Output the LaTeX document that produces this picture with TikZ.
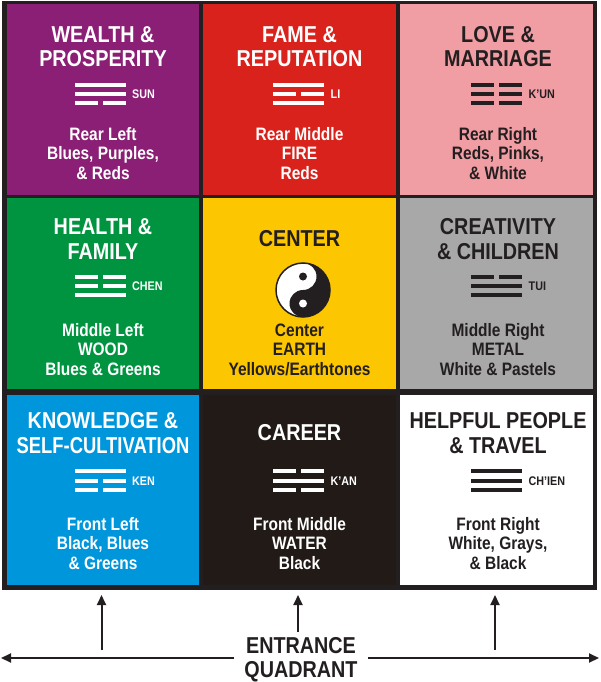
\documentclass[tikz,border=0pt]{standalone}
\usepackage{fontspec}
\usepackage{xcolor}
\usepackage{tikz}
\usetikzlibrary{positioning,arrows.meta}
\newfontfamily\condfont[FakeStretch=0.86]{Liberation Sans}

\definecolor{wealth}{RGB}{139,30,117}
\definecolor{fame}{RGB}{218,34,28}
\definecolor{love}{RGB}{240,157,164}
\definecolor{health}{RGB}{0,148,64}
\definecolor{earth}{RGB}{252,198,0}
\definecolor{metal}{RGB}{168,168,168}
\definecolor{knowl}{RGB}{0,150,220}
\definecolor{water}{RGB}{33,26,23}
\definecolor{ink}{RGB}{35,31,32}

\begin{document}
\begin{tikzpicture}[x=1pt, y=-1pt,
    cell/.style={minimum width=192.5pt, minimum height=190.5pt, inner sep=0pt},
    title/.style={font=\condfont\bfseries\fontsize{23}{24.5}\selectfont, align=center, anchor=base, inner sep=0pt},
    body/.style={font=\condfont\bfseries\fontsize{18}{19.5}\selectfont, align=center, anchor=base, inner sep=0pt},
    gua/.style={font=\condfont\bfseries\fontsize{12.5}{13}\selectfont, anchor=west, inner sep=0pt},
    entry/.style={draw=ink, line width=2pt, -{Triangle[length=10pt,width=9pt]}}]
    \useasboundingbox (0,0) rectangle (600,682);

    % Frame
    \fill[ink] (2,1) rectangle (597,590);

    % Cells
    \foreach \name/\x/\y/\col in {wealth/103/99.5/wealth, fame/299.5/99.5/fame, love/496.5/99.5/love,
        health/103/293.5/health, center/299.5/293.5/earth, creativity/496.5/293.5/metal,
        knowledge/103/490/knowl, career/299.5/490/water, helpful/496.5/490/white}
        \node[cell, fill=\col] (\name) at (\x,\y) {};

    % Titles (base = last line)
    \node[title, text=white] (wealthT) at (103,67) {WEALTH \&\\PROSPERITY};
    \node[title, text=white] (fameT) at (299.5,67) {FAME \&\\REPUTATION};
    \node[title, text=ink] (loveT) at (498,67) {LOVE \&\\MARRIAGE};
    \node[title, text=white] (healthT) at (103,259) {HEALTH \&\\FAMILY};
    \node[title, text=ink] (centerT) at (299.5,246) {CENTER};
    \node[title, text=ink] (creativityT) at (498,259) {CREATIVITY\\\& CHILDREN};
    \node[title, text=white] (knowledgeT) at (103,453) {KNOWLEDGE \&\\\scalebox{0.93}[1]{SELF-CULTIVATION}};
    \node[title, text=white] (careerT) at (299.5,440) {CAREER};
    \node[title, text=ink] (helpfulT) at (498,453) {HELPFUL PEOPLE\\\& TRAVEL};

    % Trigrams (top/middle/bottom, 1 = whole line)
    \foreach \x/\y/\a/\b/\c/\col in {100/94/1/1/0/white, 298.5/94/1/0/1/white, 496.5/94/0/0/0/ink,
        100/286/0/0/1/white, 496.5/286/0/1/1/ink,
        100/480.5/1/0/0/white, 298.5/480.5/0/1/0/white, 496.5/480.5/1/1/1/ink}
        \foreach \bit [count=\i] in {\a,\b,\c} {
            \pgfmathsetmacro{\ly}{\y+(\i-2)*9.3}
            \ifnum\bit=1
                \fill[\col] (\x-25.5,\ly-2) rectangle (\x+25.5,\ly+2);
            \else
                \fill[\col] (\x-25.5,\ly-2) rectangle (\x-2.5,\ly+2);
                \fill[\col] (\x+2.5,\ly-2) rectangle (\x+25.5,\ly+2);
            \fi
        }

    \node[gua, text=white] (sun) at (132,94.5) {SUN};
    \node[gua, text=white] (li) at (330.5,94.5) {LI};
    \node[gua, text=ink] (kun) at (528.5,94.5) {K’UN};
    \node[gua, text=white] (chen) at (132,286.5) {CHEN};
    \node[gua, text=ink] (tui) at (528.5,286.5) {TUI};
    \node[gua, text=white] (ken) at (132,481) {KEN};
    \node[gua, text=white] (kan) at (330.5,481) {K’AN};
    \node[gua, text=ink] (chien) at (528.5,481) {CH’IEN};

    % Yin yang
    \begin{scope}[shift={(303,290)}, x=1pt, y=1pt]
        \fill[white] (0,0) circle (27);
        \fill[ink] (0,27) arc (90:-90:27) arc (270:90:13.5) arc (-90:90:13.5) -- cycle;
        \fill[ink] (0,13.5) circle (4);
        \fill[white] (0,-13.5) circle (4);
        \draw[ink, line width=1.5pt] (0,0) circle (27);
    \end{scope}

    % Bodies (base = last line)
    \node[body, text=white] (wealthB) at (103,179) {Rear Left\\Blues, Purples,\\\& Reds};
    \node[body, text=white] (fameB) at (299.5,179) {Rear Middle\\FIRE\\Reds};
    \node[body, text=ink] (loveB) at (498,179) {Rear Right\\Reds, Pinks,\\\& White};
    \node[body, text=white] (healthB) at (103,375) {Middle Left\\WOOD\\Blues \& Greens};
    \node[body, text=ink] (centerB) at (299.5,375) {Center\\EARTH\\Yellows/Earthtones};
    \node[body, text=ink] (creativityB) at (498,375) {Middle Right\\METAL\\White \& Pastels};
    \node[body, text=white] (knowledgeB) at (103,569) {Front Left\\Black, Blues\\\& Greens};
    \node[body, text=white] (careerB) at (299.5,569) {Front Middle\\WATER\\Black};
    \node[body, text=ink] (helpfulB) at (498,569) {Front Right\\White, Grays,\\\& Black};

    % Entrance
    \node[title, text=ink, inner xsep=10pt, font=\condfont\bfseries\fontsize{23}{23.5}\selectfont] (entrance) at (301,677) {ENTRANCE\\QUADRANT};
    \coordinate (endL) at (1,658);
    \coordinate (endR) at (599,658);
    \draw[entry] (entrance.west |- endL) -- (endL);
    \draw[entry] (entrance.east |- endR) -- (endR);

    \foreach \i/\x/\y in {1/101.5/650, 2/298/632, 3/495/650} {
        \coordinate (foot\i) at (\x,\y);
        \coordinate (tip\i) at (\x,595);
        \draw[entry] (foot\i) -- (tip\i);
    }
\end{tikzpicture}
\end{document}
